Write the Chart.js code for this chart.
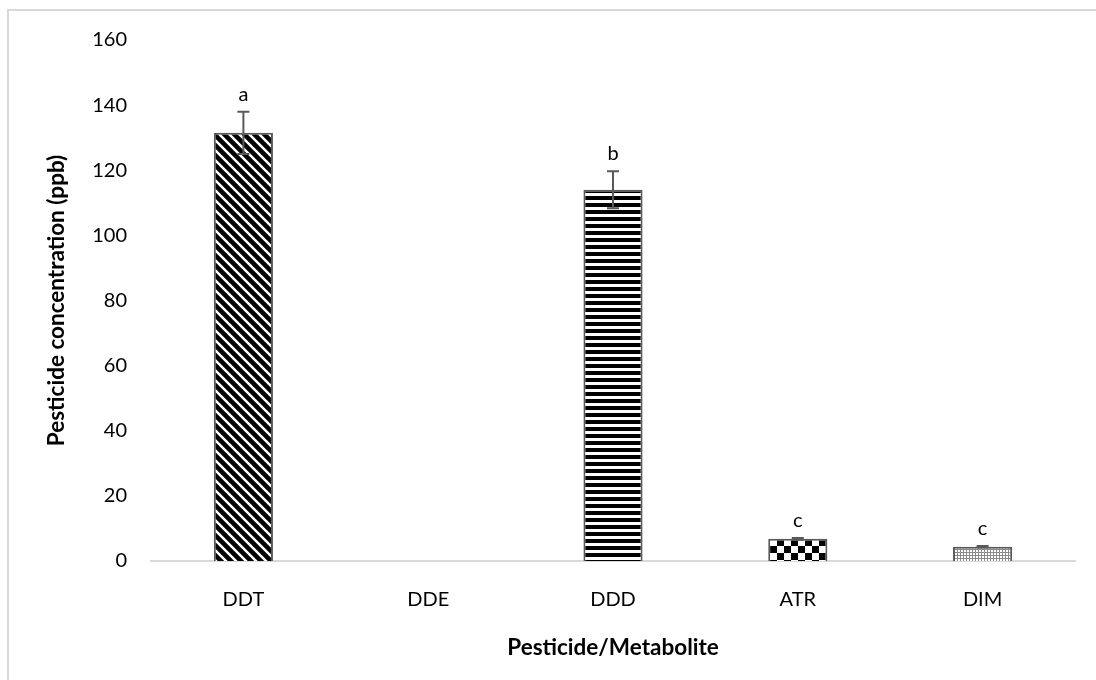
<!DOCTYPE html>
<html>
<head>
<meta charset="utf-8">
<script src="https://cdn.jsdelivr.net/npm/chart.js@4"></script>
<style>
  html, body { margin: 0; padding: 0; background: #fff; overflow: hidden; }
  #wrap { position: absolute; left: 0; top: 0; width: 1096px; height: 680px; }
  #frame { position: absolute; left: 7px; top: 9px; width: 1200px; height: 800px; border: 2px solid #d9d9d9; }
</style>
</head>
<body>
<div id="frame"></div>
<div id="wrap"><canvas id="chartCanvas"></canvas></div>
<script>
// du lieu doc tu hinh
const labels = ['DDT', 'DDE', 'DDD', 'ATR', 'DIM'];
const concValues = [131.5, null, 114, 6.8, 4.4];
const errValues = [6.5, null, 5.7, 0.3, 0.2];
const letters = ['a', '', 'b', 'c', 'c'];
const yTicks = [0, 20, 40, 60, 80, 100, 120, 140, 160];

const FONT = 'Lato, "Noto Sans", sans-serif';

// tao cac mau to (pattern) cho cot
function makePattern(w, h, draw) {
    const c = document.createElement('canvas');
    c.width = w; c.height = h;
    const g = c.getContext('2d');
    g.fillStyle = '#fff';
    g.fillRect(0, 0, w, h);
    draw(g, w, h);
    return c.getContext('2d').createPattern(c, 'repeat');
}

const diagPattern = makePattern(10, 10, (g, w, h) => {
    g.strokeStyle = '#000';
    g.lineWidth = 4.6;
    g.beginPath();
    g.moveTo(-w, -h); g.lineTo(2 * w, 2 * h);
    g.moveTo(-w, 0); g.lineTo(w, 2 * h);
    g.moveTo(0, -h); g.lineTo(2 * w, h);
    g.stroke();
});

const horizPattern = makePattern(4, 7, (g, w, h) => {
    g.fillStyle = '#000';
    g.fillRect(0, 0, w, 4);
});

const checkPattern = makePattern(14, 14, (g, w, h) => {
    g.fillStyle = '#000';
    g.fillRect(0, 0, 7, 7);
    g.fillRect(7, 7, 7, 7);
});

const dotPattern = makePattern(3, 3, (g, w, h) => {
    g.fillStyle = '#8a8a8a';
    g.fillRect(0, 0, 3, 1);
    g.fillRect(0, 0, 1, 3);
});

// ve thanh sai so va chu cai tren cot
const errorBarPlugin = {
    id: 'errorBars',
    afterDatasetsDraw(chart) {
        const ctx = chart.ctx;
        const y = chart.scales.y;
        const meta = chart.getDatasetMeta(0);
        ctx.save();
        meta.data.forEach((bar, i) => {
            const v = concValues[i];
            if (v == null) return;
            const e = errValues[i] || 0;
            const x = bar.x;
            const yTop = y.getPixelForValue(v + e);
            const yBot = y.getPixelForValue(v - e);
            ctx.strokeStyle = '#595959';
            ctx.lineWidth = 2;
            ctx.beginPath();
            ctx.moveTo(x, yTop); ctx.lineTo(x, yBot);
            ctx.moveTo(x - 6, yTop); ctx.lineTo(x + 6, yTop);
            ctx.moveTo(x - 6, yBot); ctx.lineTo(x + 6, yBot);
            ctx.stroke();
            ctx.fillStyle = '#000';
            ctx.font = '20px ' + FONT;
            ctx.textAlign = 'center';
            ctx.textBaseline = 'alphabetic';
            ctx.fillText(letters[i], x, yTop - 11);
        });
        ctx.restore();
    }
};

const ctx = document.getElementById('chartCanvas').getContext('2d');
const chart = new Chart(ctx, {
    type: 'bar',
    data: {
        labels: labels,
        datasets: [{
            data: concValues,
            backgroundColor: [diagPattern, '#fff', horizPattern, checkPattern, dotPattern],
            borderColor: '#595959',
            borderWidth: 2,
            categoryPercentage: 1,
            barPercentage: 0.32
        }]
    },
    options: {
        responsive: true,
        maintainAspectRatio: false,
        animation: false,
        layout: { padding: { top: 40, right: 21, bottom: 0, left: 0 } },
        plugins: {
            legend: { display: false },
            tooltip: { enabled: false }
        },
        scales: {
            x: {
                grid: { display: false, drawTicks: false },
                border: { display: true, color: '#d9d9d9', width: 2 },
                ticks: { color: '#000', font: { family: FONT, size: 20 }, padding: 27 },
                title: {
                    display: true,
                    text: 'Pesticide/Metabolite',
                    color: '#000',
                    font: { family: FONT, size: 22.5, weight: 'bold' },
                    padding: { top: 0, bottom: 19 }
                },
                afterFit(scale) { scale.height = 119; }
            },
            y: {
                min: 0,
                max: 160,
                afterBuildTicks(scale) { scale.ticks = yTicks.map(v => ({ value: v })); },
                grid: { display: false, drawTicks: false },
                border: { display: false },
                ticks: { color: '#000', font: { family: FONT, size: 20 }, padding: 24 },
                title: {
                    display: true,
                    text: 'Pesticide concentration (ppb)',
                    color: '#000',
                    font: { family: FONT, size: 22.5, weight: 'bold' },
                    padding: { top: 43, bottom: 0 }
                },
                afterFit(scale) { scale.width = 151; }
            }
        }
    },
    plugins: [errorBarPlugin]
});
</script>
</body>
</html>
